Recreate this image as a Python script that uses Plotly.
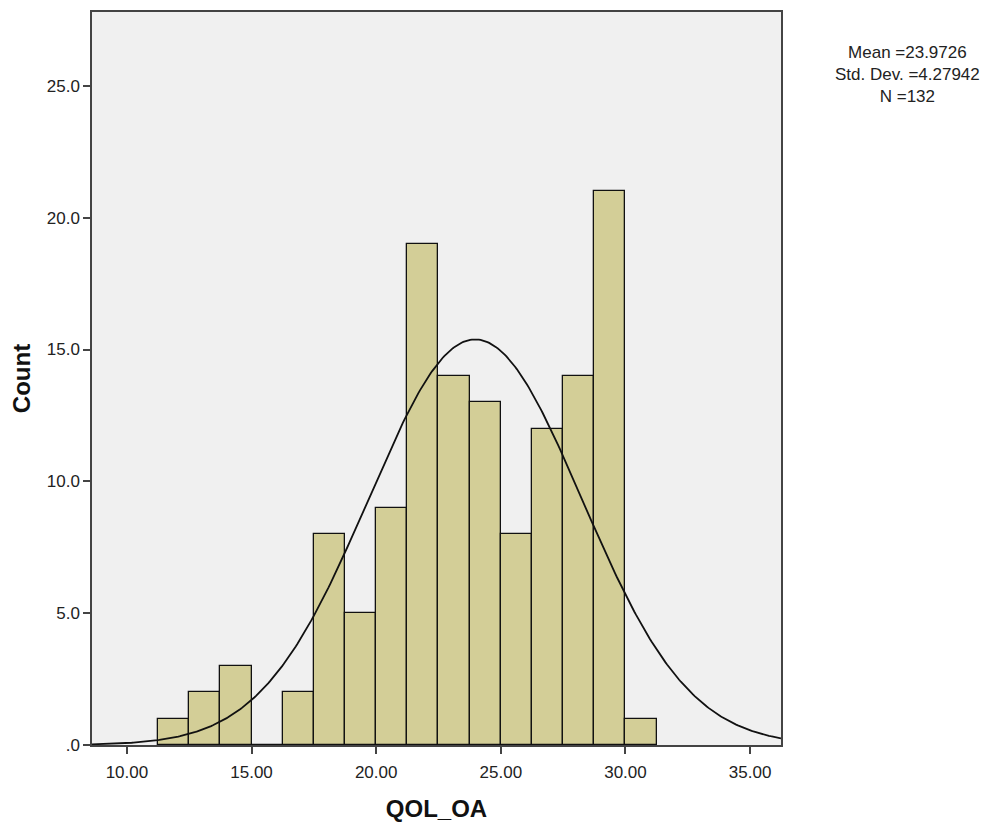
import numpy as np
import plotly.graph_objects as go

# Data
bin_starts = [11.25, 12.5, 13.75, 15.0, 16.25, 17.5, 18.75, 20.0, 21.25, 22.5,
              23.75, 25.0, 26.25, 27.5, 28.75, 30.0]
counts = [1, 2, 3, 0, 2, 8, 5, 9, 19, 14, 13, 8, 12, 14, 21, 1]
bin_width = 1.25
mean_val = 23.9726
sd_val = 4.27942
n_val = 132

x_tickvals = [10, 15, 20, 25, 30, 35]
x_ticktext = ["10.00", "15.00", "20.00", "25.00", "30.00", "35.00"]
y_tickvals = [0, 5, 10, 15, 20, 25]
y_ticktext = [".0", "5.0", "10.0", "15.0", "20.0", "25.0"]

x_range = [8.6, 36.24]
y_range = [0, 27.8]

centers = [s + bin_width / 2 for s in bin_starts]

# Fitted normal curve (SPSS overlay) from the reported statistics
xc = np.linspace(x_range[0], x_range[1], 400)
yc = n_val * bin_width * np.exp(-0.5 * ((xc - mean_val) / sd_val) ** 2) / (sd_val * np.sqrt(2 * np.pi))

fig = go.Figure()
fig.add_trace(go.Bar(
    x=centers, y=counts, width=bin_width,
    marker=dict(color="#D3CE97", line=dict(color="#111111", width=1.3)),
    hoverinfo="x+y", showlegend=False,
))
fig.add_trace(go.Scatter(
    x=xc, y=yc, mode="lines",
    line=dict(color="#111111", width=1.8), showlegend=False, hoverinfo="skip",
))

font_family = "Liberation Sans, Arial, sans-serif"

fig.update_layout(
    width=986, height=820,
    margin=dict(l=84, r=213, t=2, b=83),
    paper_bgcolor="white",
    plot_bgcolor="#F0F0F0",
    bargap=0,
    font=dict(family=font_family, size=18, color="#222222"),
    xaxis=dict(
        range=x_range, tickvals=x_tickvals, ticktext=x_ticktext,
        showgrid=False, zeroline=False,
        showline=True, linecolor="#444444", linewidth=1.5, mirror=True,
        ticks="outside", ticklen=7, tickcolor="#444444", tickwidth=1.5,
        ticklabelstandoff=4,
        tickfont=dict(size=17, family=font_family, color="#222222"),
        title=dict(text="<b>QOL_OA</b>", font=dict(size=24, family=font_family, color="#111111"), standoff=19),
    ),
    yaxis=dict(
        range=y_range, tickvals=y_tickvals, ticktext=y_ticktext,
        showgrid=False, zeroline=False,
        showline=True, linecolor="#444444", linewidth=1.5, mirror=True,
        ticks="outside", ticklen=7, tickcolor="#444444", tickwidth=1.5,
        tickfont=dict(size=17, family=font_family, color="#222222"),
        title=dict(text="<b>Count</b>", font=dict(size=24, family=font_family, color="#111111"), standoff=10),
    ),
    annotations=[dict(
        xref="paper", yref="paper", x=1.183, y=0.961,
        xanchor="center", yanchor="top", showarrow=False,
        text=f"Mean ={mean_val}<br>Std. Dev. ={sd_val}<br>N ={n_val}",
        align="center", font=dict(size=17, family=font_family, color="#222222"),
    )],
)

fig.write_html("out.html")
